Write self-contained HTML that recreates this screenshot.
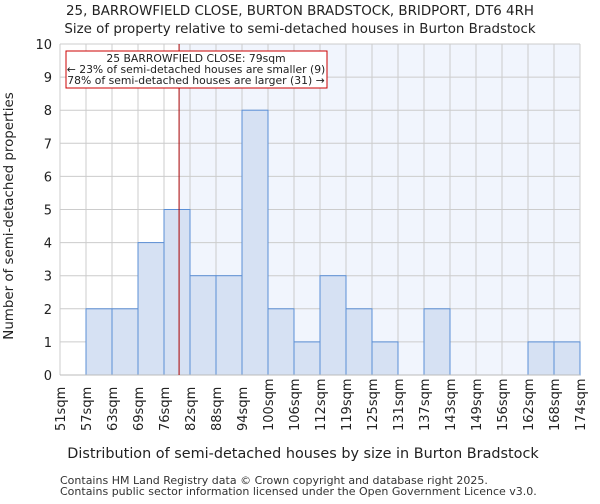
<!DOCTYPE html>
<html><head><meta charset="utf-8"><style>
body{margin:0;background:#fff;font-family:"DejaVu Sans","Liberation Sans",sans-serif}
</style></head><body>
<svg width="600" height="500" xmlns="http://www.w3.org/2000/svg" font-family="DejaVu Sans, Liberation Sans, sans-serif">
<text x="300" y="15" text-anchor="middle" font-size="13.4" fill="#222">25, BARROWFIELD CLOSE, BURTON BRADSTOCK, BRIDPORT, DT6 4RH</text>
<text x="300" y="33" text-anchor="middle" font-size="13.4" fill="#222">Size of property relative to semi-detached houses in Burton Bradstock</text>
<g id="plot"></g>
<text x="303" y="458" text-anchor="middle" font-size="14.4" fill="#222">Distribution of semi-detached houses by size in Burton Bradstock</text>
<text transform="translate(13,216) rotate(-90)" text-anchor="middle" font-size="13.4" fill="#222">Number of semi-detached properties</text>
<text x="60" y="484" font-size="11" fill="#333">Contains HM Land Registry data © Crown copyright and database right 2025.</text>
<text x="60" y="495" font-size="11" fill="#333">Contains public sector information licensed under the Open Government Licence v3.0.</text>
</svg>
<script>
const categories=["51sqm","57sqm","63sqm","69sqm","76sqm","82sqm","88sqm","94sqm","100sqm","106sqm","112sqm","119sqm","125sqm","131sqm","137sqm","143sqm","149sqm","156sqm","162sqm","168sqm","174sqm"];
const counts=[0,2,2,4,5,3,3,8,2,1,3,2,1,0,2,0,0,0,1,1];
const yTicks=[0,1,2,3,4,5,6,7,8,9,10];
const markerIndex=4.58;
const NS="http://www.w3.org/2000/svg";
const g=document.getElementById('plot');
const L=60,R=580,T=44,B=375,bw=(R-L)/(categories.length-1);
const xs=i=>L+i*bw, ys=v=>B-v*(B-T)/10;
function el(t,a,p){const e=document.createElementNS(NS,t);for(const k in a)e.setAttribute(k,a[k]);(p||g).appendChild(e);return e;}
const mx=xs(markerIndex);
const shade=el('rect',{x:mx,y:T,width:R-mx,height:B-T,fill:'#f1f5fd'});


yTicks.forEach(v=>{
 const l=el('line',{x1:L,x2:R,y1:ys(v),y2:ys(v),stroke:'#ccc','stroke-width':1});
 
 
 const t=el('text',{x:L-8,y:ys(v)+5,'text-anchor':'end','font-size':13,fill:'#222'});
 t.textContent=v;
 
 
});
categories.forEach((c,i)=>{
 const l=el('line',{x1:xs(i),x2:xs(i),y1:T,y2:B,stroke:'#ccc','stroke-width':1});
 
 
 const t=el('text',{transform:`translate(${xs(i)+5},${B+56}) rotate(-90)`,'font-size':13,fill:'#222'});
 t.textContent=c;
 
 
});
counts.forEach((v,i)=>{
 if(v<=0)return;
 const r=el('rect',{x:xs(i),y:ys(v),width:bw,height:B-ys(v),fill:'#d6e1f3',stroke:'#5b8fd6','stroke-width':1});
 
 
});
const ax=el('line',{x1:L,x2:R,y1:B,y2:B,stroke:'#bbb','stroke-width':1});


const m=el('line',{x1:mx,x2:mx,y1:T,y2:B,stroke:'#aa0000','stroke-width':1});


const box=el('rect',{x:66,y:51,width:261,height:37,fill:'#fff',stroke:'#cc0000','stroke-width':1});


["25 BARROWFIELD CLOSE: 79sqm","← 23% of semi-detached houses are smaller (9)","78% of semi-detached houses are larger (31) →"].forEach((s,i)=>{
 const t=el('text',{x:196,y:62+i*11,'text-anchor':'middle','font-size':10.8,fill:'#222'});
 t.textContent=s;
 
 
});
</script>
</body></html>
